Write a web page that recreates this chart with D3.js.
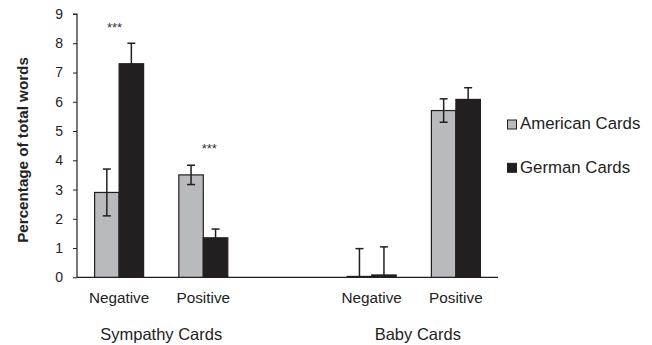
<!DOCTYPE html>
<html>
<head>
<meta charset="utf-8">
<script src="https://cdn.jsdelivr.net/npm/d3@7"></script>
<style>
  html, body { margin: 0; padding: 0; background: #fff; }
  svg { display: block; font-family: Arial, "Liberation Sans", sans-serif; }
</style>
</head>
<body>
<svg id="chart" width="652" height="345"></svg>
<script>
// ---- data ----
const slots = ["s-neg", "s-pos", "gap", "b-neg", "b-pos"];
const slotLabels = ["Negative", "Positive", "", "Negative", "Positive"];
const groups = ["Sympathy Cards", "Baby Cards"];
const groupSlots = [["s-neg", "s-pos"], ["b-neg", "b-pos"]];
const series = ["American Cards", "German Cards"];
const americanValues = [2.9, 3.5, null, 0.03, 5.7];
const americanErrors = [0.8, 0.33, null, 0.95, 0.4];
const germanValues = [7.3, 1.35, null, 0.08, 6.08];
const germanErrors = [0.7, 0.3, null, 0.96, 0.4];
const yTicks = [0, 1, 2, 3, 4, 5, 6, 7, 8, 9];
const sigSlots = ["s-neg", "s-pos"];
const sigLevels = [8.7, 4.55];
const sigText = "***";

// ---- layout ----
const svg = d3.select("#chart");
const margin = { left: 77, right: 154, top: 14, bottom: 68 };
const x0 = d3.scaleBand().domain(slots).range([margin.left, 498]).paddingInner(0).paddingOuter(0);
const y = d3.scaleLinear().domain([0, 9]).range([277.3, 14]);
const colors = ["#b9babd", "#231f20"];
const ink = "#231f20";
const barW = 24.5;

// y axis
const yAxis = d3.axisLeft(y).tickValues(yTicks).tickSize(4).tickPadding(10).tickFormat(d3.format("d"));
const gy = svg.append("g").attr("transform", `translate(${margin.left},0)`).call(yAxis);
gy.select(".domain").attr("stroke", ink).attr("stroke-width", 1.2).attr("d", `M-4,${y(9)}H0V${y(0)}`);
gy.selectAll(".tick line").attr("stroke", ink).attr("stroke-width", 1);
gy.selectAll(".tick text").attr("fill", "#222").style("font-size", "14px").style("font-family", "Arial, 'Liberation Sans', sans-serif");

// x axis line
svg.append("line").attr("x1", margin.left).attr("x2", 498).attr("y1", y(0)).attr("y2", y(0))
  .attr("stroke", ink).attr("stroke-width", 1.2);

// bars
const valueSets = [americanValues, germanValues];
const errorSets = [americanErrors, germanErrors];
series.forEach((s, si) => {
  const data = slots.map((k, i) => ({ k, v: valueSets[si][i], e: errorSets[si][i] })).filter(d => d.v !== null);
  const g = svg.append("g");
  const bx = d => x0(d.k) + x0.bandwidth() / 2 - barW + si * barW;
  g.selectAll("rect").data(data).join("rect")
    .attr("x", bx)
    .attr("y", d => y(d.v))
    .attr("width", barW)
    .attr("height", d => y(0) - y(d.v))
    .attr("fill", colors[si])
    .attr("stroke", ink)
    .attr("stroke-width", 1.2);
  const cx = d => bx(d) + barW / 2;
  g.selectAll("line.err").data(data).join("line").attr("class", "err")
    .attr("x1", cx).attr("x2", cx)
    .attr("y1", d => y(Math.max(0, d.v - d.e))).attr("y2", d => y(d.v + d.e))
    .attr("stroke", ink).attr("stroke-width", 1.5);
  g.selectAll("line.capT").data(data).join("line").attr("class", "capT")
    .attr("x1", d => cx(d) - 4).attr("x2", d => cx(d) + 4)
    .attr("y1", d => y(d.v + d.e)).attr("y2", d => y(d.v + d.e))
    .attr("stroke", ink).attr("stroke-width", 1.5);
  g.selectAll("line.capB").data(data.filter(d => d.v - d.e > 0)).join("line").attr("class", "capB")
    .attr("x1", d => cx(d) - 4).attr("x2", d => cx(d) + 4)
    .attr("y1", d => y(d.v - d.e)).attr("y2", d => y(d.v - d.e))
    .attr("stroke", ink).attr("stroke-width", 1.5);
});

// significance marks
const sigDx = [-4.5, 6];
svg.append("g").selectAll("text").data(sigSlots).join("text")
  .attr("x", (d, i) => x0(d) + x0.bandwidth() / 2 + sigDx[i])
  .attr("y", (d, i) => y(sigLevels[i]) + 9)
  .attr("text-anchor", "middle")
  .attr("fill", "#333")
  .style("font-size", "13px")
  .text(sigText);

// category labels
svg.append("g").selectAll("text").data(slots.filter((d, i) => slotLabels[i] !== "")).join("text")
  .attr("x", d => x0(d) + x0.bandwidth() / 2)
  .attr("y", 302.7)
  .attr("text-anchor", "middle")
  .attr("fill", "#222")
  .style("font-size", "15.3px")
  .text(d => slotLabels[slots.indexOf(d)]);

// group labels
const groupDx = [0, 4];
svg.append("g").selectAll("text").data(groups).join("text")
  .attr("x", (d, i) => {
    const a = groupSlots[i];
    return (x0(a[0]) + x0(a[a.length - 1]) + x0.bandwidth()) / 2 + groupDx[i];
  })
  .attr("y", 340)
  .attr("text-anchor", "middle")
  .attr("fill", "#222")
  .style("font-size", "16.5px")
  .text(d => d);

// y title
svg.append("text")
  .attr("transform", `translate(27.7,150) rotate(-90)`)
  .attr("text-anchor", "middle")
  .attr("fill", "#222")
  .style("font-size", "15.2px")
  .style("font-weight", "bold")
  .text("Percentage of total words");

// legend
const leg = svg.append("g").attr("transform", "translate(507.5,120)");
series.forEach((s, i) => {
  const row = leg.append("g").attr("transform", `translate(0,${i * 43.3})`);
  row.append("rect").attr("x", 0).attr("y", 0).attr("width", 9).attr("height", 9)
    .attr("fill", colors[i]).attr("stroke", ink).attr("stroke-width", 1);
  row.append("text").attr("x", 12.5).attr("y", 9.3)
    .attr("fill", "#222")
    .style("font-size", "16.8px")
    .text(s);
});
</script>
</body>
</html>
